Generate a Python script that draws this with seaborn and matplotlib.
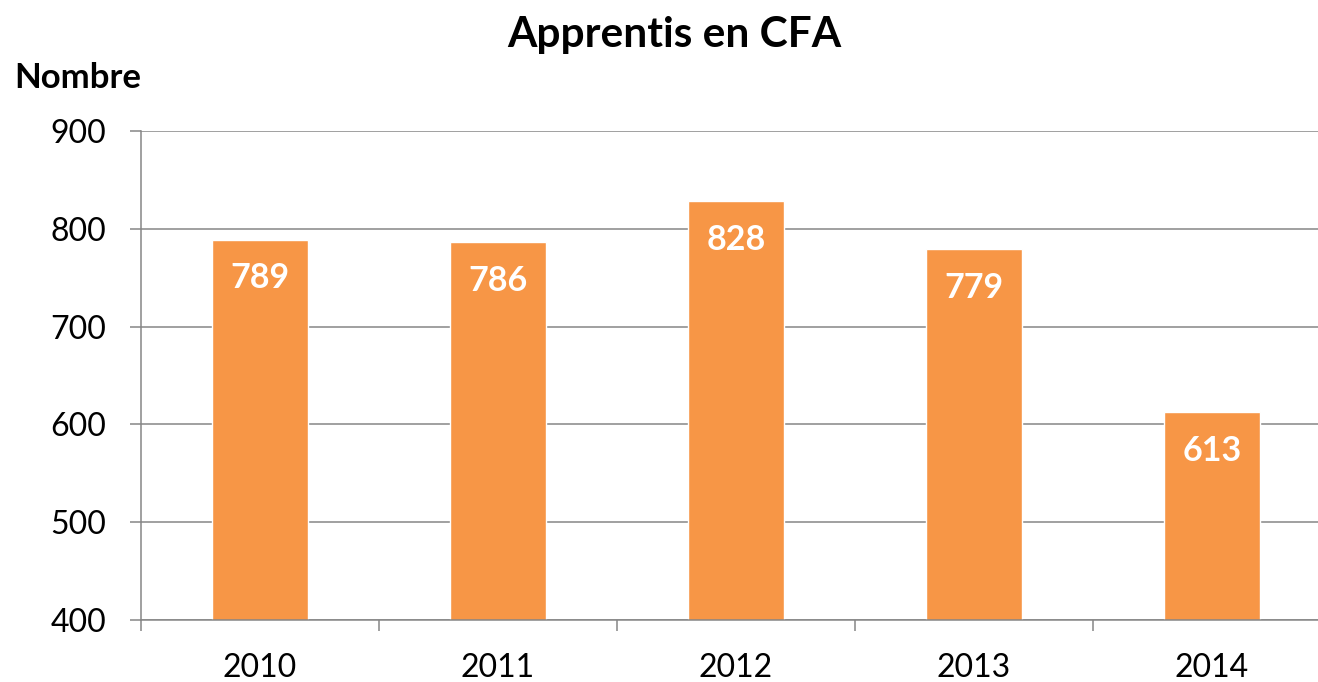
import numpy as np
import pandas as pd
import matplotlib
matplotlib.use('Agg')
import matplotlib.pyplot as plt
import seaborn as sns

annees = ['2010', '2011', '2012', '2013', '2014']
apprentis = [789, 786, 828, 779, 613]

df = pd.DataFrame({'Annee': annees, 'Apprentis': apprentis})

sns.set_style('white')
plt.rcParams['font.family'] = ['Lato', 'DejaVu Sans']
plt.rcParams['text.color'] = 'black'

fig = plt.figure(figsize=(13.18, 6.82), dpi=100)
# the axes run a bit past the right edge, as in the original (cropped) chart
ax = fig.add_axes([141/1318, 1 - 620/682, 1190/1318, 489/682])

sns.barplot(data=df, x='Annee', y='Apprentis', color='#F79646', saturation=1,
            width=0.4, ax=ax, zorder=3)

ax.set_ylim(400, 900)
ax.set_xlim(-0.5, 4.5)
ax.set_yticks(np.arange(400, 901, 100))
ax.yaxis.grid(True, color='#868686', lw=1.1, zorder=0)
ax.set_axisbelow(True)

for s in ['top', 'right', 'bottom']:
    ax.spines[s].set_visible(False)
ax.spines['left'].set_color('#868686')
ax.spines['left'].set_linewidth(1.1)
ax.axhline(400, color='#868686', lw=1.1, zorder=4, clip_on=False)

ax.tick_params(axis='y', length=8, width=1.1, color='#868686', pad=17,
               labelsize=23, labelcolor='black', left=True)
ax.tick_params(axis='x', which='major', length=0, pad=24, labelsize=23,
               labelcolor='black', bottom=True)
ax.set_xticks(np.arange(-0.5, 5, 1.0), minor=True)
ax.tick_params(axis='x', which='minor', length=8, width=1.1, color='#868686',
               bottom=True)
ax.set_xlabel('')
ax.set_ylabel('')

for i, v in enumerate(apprentis):
    ax.annotate(str(v), (i, v), xytext=(0, -28), textcoords='offset points',
                ha='center', va='center', color='white', fontsize=24.5,
                fontweight='bold', zorder=5)

fig.text(674/1318, 1 - 35/682, 'Apprentis en CFA', ha='center', va='center',
         fontsize=30.5, fontweight='bold', color='black')
fig.text(14/1318, 1 - 78/682, 'Nombre', ha='left', va='center',
         fontsize=25, fontweight='bold', color='black')

fig.savefig('out.png', dpi=100)
